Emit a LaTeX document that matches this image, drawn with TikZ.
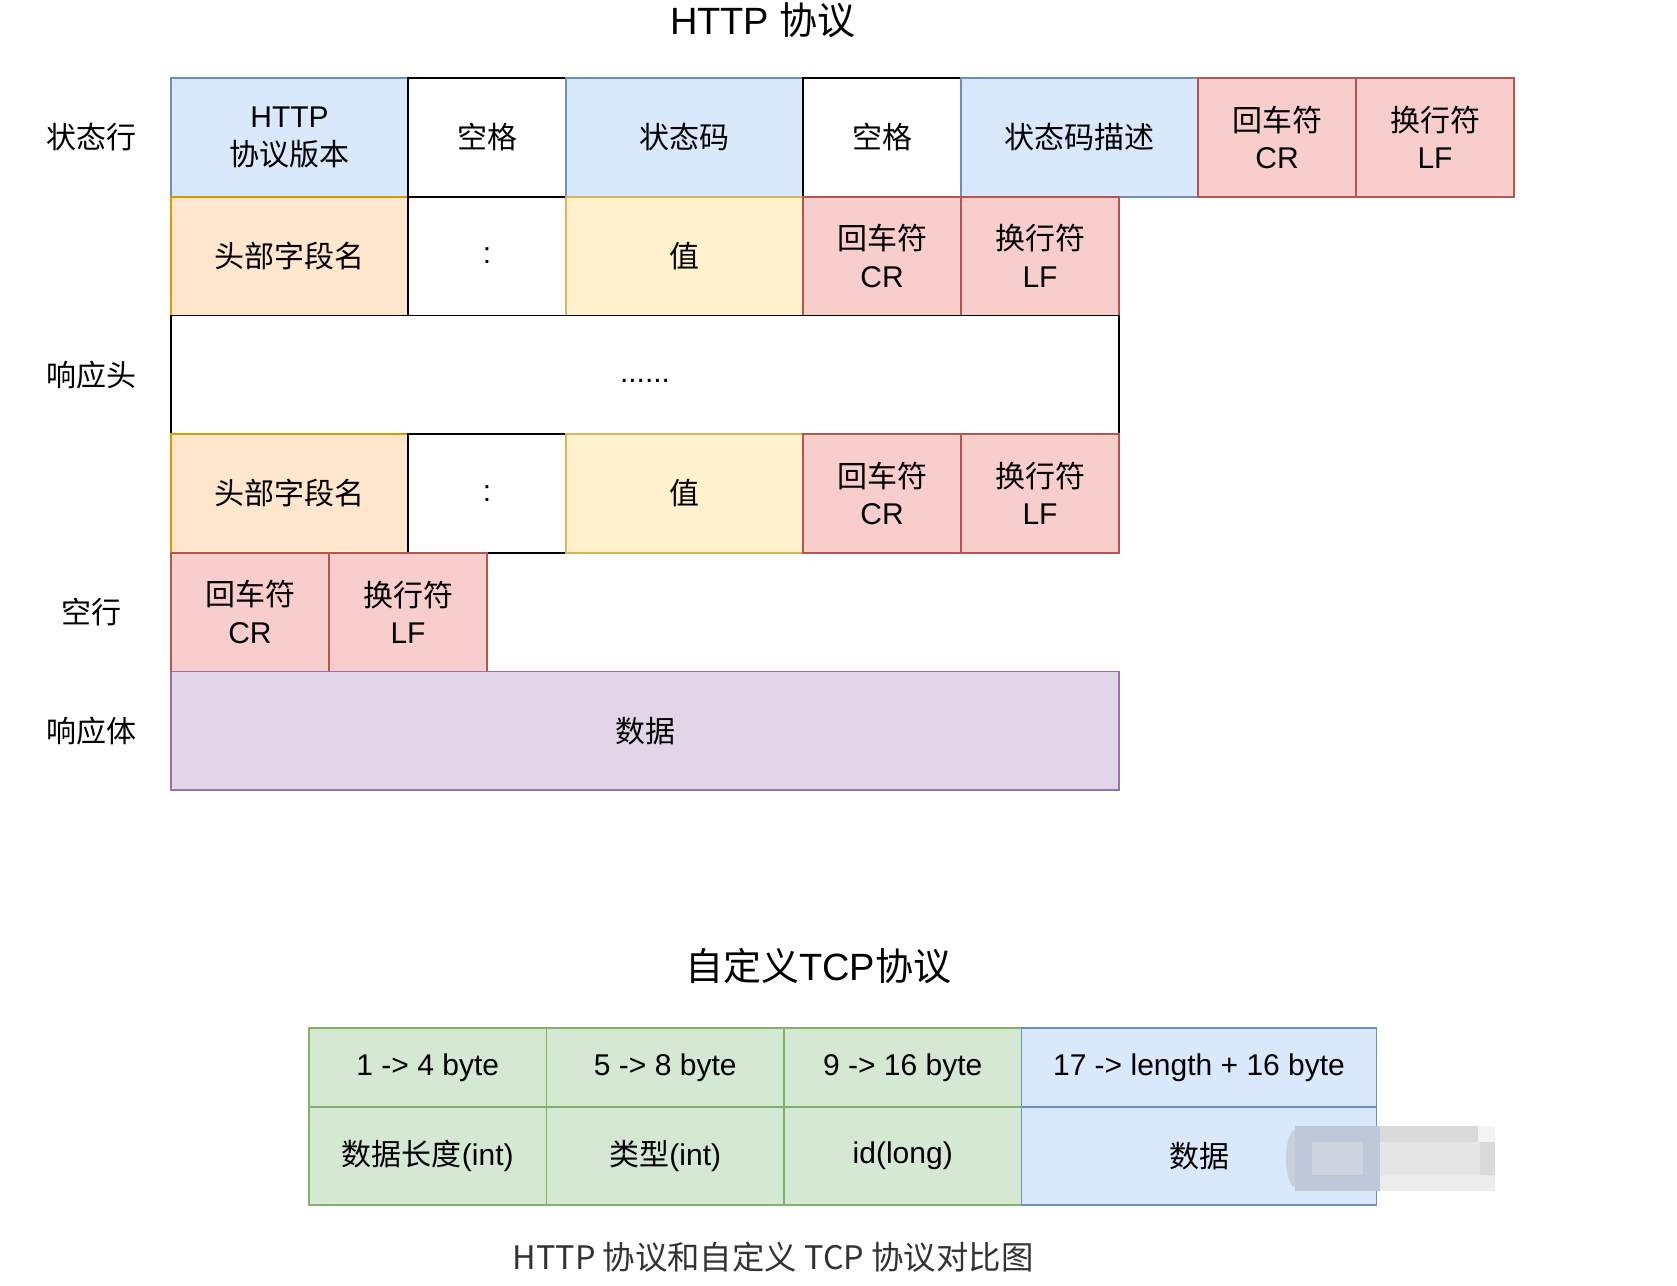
\documentclass[tikz,border=0pt]{standalone}
\usepackage{fontspec}
\setmainfont{Liberation Sans}
\newfontfamily\cjk{Noto Sans CJK SC}
\definecolor{fblue}{HTML}{DAE8FC}\definecolor{sblue}{HTML}{6C8EBF}
\definecolor{forange}{HTML}{FFE6CC}\definecolor{sorange}{HTML}{D79B00}
\definecolor{fyellow}{HTML}{FFF2CC}\definecolor{syellow}{HTML}{D6B656}
\definecolor{fred}{HTML}{F8CECC}\definecolor{sred}{HTML}{B85450}
\definecolor{fpurple}{HTML}{E1D5E7}\definecolor{spurple}{HTML}{9673A6}
\definecolor{fgreen}{HTML}{D5E8D4}\definecolor{sgreen}{HTML}{82B366}
\definecolor{captext}{HTML}{333333}
\definecolor{blurA}{RGB}{200,208,220}
\definecolor{blurB}{RGB}{190,200,216}
\definecolor{blurC}{RGB}{205,212,224}
\definecolor{blurD}{RGB}{218,218,218}
\definecolor{blurE}{RGB}{230,230,230}
\definecolor{blurF}{RGB}{236,236,236}
\definecolor{blurG}{RGB}{244,244,244}
\begin{document}
\begin{tikzpicture}[x=1pt,y=-1pt,
  cell/.style={draw, line width=1.6pt, inner sep=0pt, outer sep=0pt, anchor=north west,
    align=center, text=black, font=\fontsize{30}{37.5}\selectfont},
  bluecell/.style={cell, fill=fblue, draw=sblue},
  orangecell/.style={cell, fill=forange, draw=sorange},
  yellowcell/.style={cell, fill=fyellow, draw=syellow},
  redcell/.style={cell, fill=fred, draw=sred},
  purplecell/.style={cell, fill=fpurple, draw=spurple},
  greencell/.style={cell, fill=fgreen, draw=sgreen},
  whitecell/.style={cell, fill=white, draw=black},
  wide/.style={minimum width=237pt},
  narrow/.style={minimum width=158pt},
  hrow/.style={minimum height=118.7pt},
  lbl/.style={font=\fontsize{30}{36}\cjk, text=black, inner sep=0pt},
  ttl/.style={font=\fontsize{38}{44}\selectfont, text=black, inner sep=0pt},
]
\useasboundingbox (0,0) rectangle (1677,1285);
\fill[white] (0,0) rectangle (1677,1285);

% titles
\node[ttl] (t1) at (763,20) {HTTP {\cjk 协议}};

% row labels
\node[lbl] (l1) at (91,137.5) {状态行};
\node[lbl] (l2) at (91,374.8) {响应头};
\node[lbl] (l3) at (91,612) {空行};
\node[lbl] (l4) at (91,731) {响应体};

% row 1: status line
\node[bluecell,wide,hrow] (s1) at (171,78) {HTTP\\{\cjk 协议版本}};
\node[whitecell,narrow,hrow] (s2) at (408,78) {{\cjk 空格}};
\node[bluecell,wide,hrow] (s3) at (566,78) {{\cjk 状态码}};
\node[whitecell,narrow,hrow] (s4) at (803,78) {{\cjk 空格}};
\node[bluecell,wide,hrow] (s5) at (961,78) {{\cjk 状态码描述}};
\node[redcell,narrow,hrow] (s6) at (1198,78) {{\cjk 回车符}\\CR};
\node[redcell,narrow,hrow] (s7) at (1356,78) {{\cjk 换行符}\\LF};

% row 2: header
\node[orangecell,wide,hrow] (a1) at (171,196.7) {{\cjk 头部字段名}};
\node[whitecell,narrow,hrow] (a2) at (408,196.7) {:};
\node[yellowcell,wide,hrow] (a3) at (566,196.7) {{\cjk 值}};
\node[redcell,narrow,hrow] (a4) at (803,196.7) {{\cjk 回车符}\\CR};
\node[redcell,narrow,hrow] (a5) at (961,196.7) {{\cjk 换行符}\\LF};

% row 3: dots
\node[whitecell,minimum width=948pt,hrow] (d) at (171,315.4) {\raisebox{-6.4pt}[3pt][0pt]{......}};

% row 4: header
\node[orangecell,wide,hrow] (b1) at (171,434.1) {{\cjk 头部字段名}};
\node[whitecell,narrow,hrow] (b2) at (408,434.1) {:};
\node[yellowcell,wide,hrow] (b3) at (566,434.1) {{\cjk 值}};
\node[redcell,narrow,hrow] (b4) at (803,434.1) {{\cjk 回车符}\\CR};
\node[redcell,narrow,hrow] (b5) at (961,434.1) {{\cjk 换行符}\\LF};

% row 5: empty line
\node[redcell,narrow,hrow] (e1) at (171,552.8) {{\cjk 回车符}\\CR};
\node[redcell,narrow,hrow] (e2) at (329,552.8) {{\cjk 换行符}\\LF};

% row 6: body
\node[purplecell,minimum width=948pt,hrow] (body) at (171,671.5) {{\cjk 数据}};

% TCP
\node[ttl] (t2) at (818,966) {{\cjk 自定义}TCP{\cjk 协议}};
\node[greencell,minimum width=237.5pt,minimum height=79pt] (g1) at (309,1028) {1 -> 4 byte};
\node[greencell,minimum width=237.5pt,minimum height=79pt] (g2) at (546.5,1028) {5 -> 8 byte};
\node[greencell,minimum width=237.5pt,minimum height=79pt] (g3) at (784,1028) {9 -> 16 byte};
\node[bluecell,minimum width=355pt,minimum height=79pt] (g4) at (1021.5,1028) {17 -> length + 16 byte};
\node[greencell,minimum width=237.5pt,minimum height=98pt] (g5) at (309,1107) {{\cjk 数据长度}(int)};
\node[greencell,minimum width=237.5pt,minimum height=98pt] (g6) at (546.5,1107) {{\cjk 类型}(int)};
\node[greencell,minimum width=237.5pt,minimum height=98pt] (g7) at (784,1107) {id(long)};
\node[bluecell,minimum width=355pt,minimum height=98pt] (g8) at (1021.5,1107) {{\cjk 数据}};

% blurred patch
\fill[blurA] (1295,1130) -- (1295,1187) arc[start angle=270,end angle=90,x radius=9pt,y radius=28.5pt] -- cycle;
\fill[blurB] (1295,1126) rectangle (1380,1191);
\fill[blurC] (1312,1142) rectangle (1363,1175);
\fill[blurD] (1380,1126) rectangle (1495,1191);
\fill[blurE] (1380,1142) rectangle (1480,1175);
\fill[blurF] (1380,1175) rectangle (1495,1191);
\fill[blurG] (1478,1126) rectangle (1495,1142);

% caption
\node[font=\fontsize{32.4}{38}\cjk, text=captext, inner sep=0pt] (cap) at (773,1257) {HTTP 协议和自定义 TCP 协议对比图};
\end{tikzpicture}
\end{document}
